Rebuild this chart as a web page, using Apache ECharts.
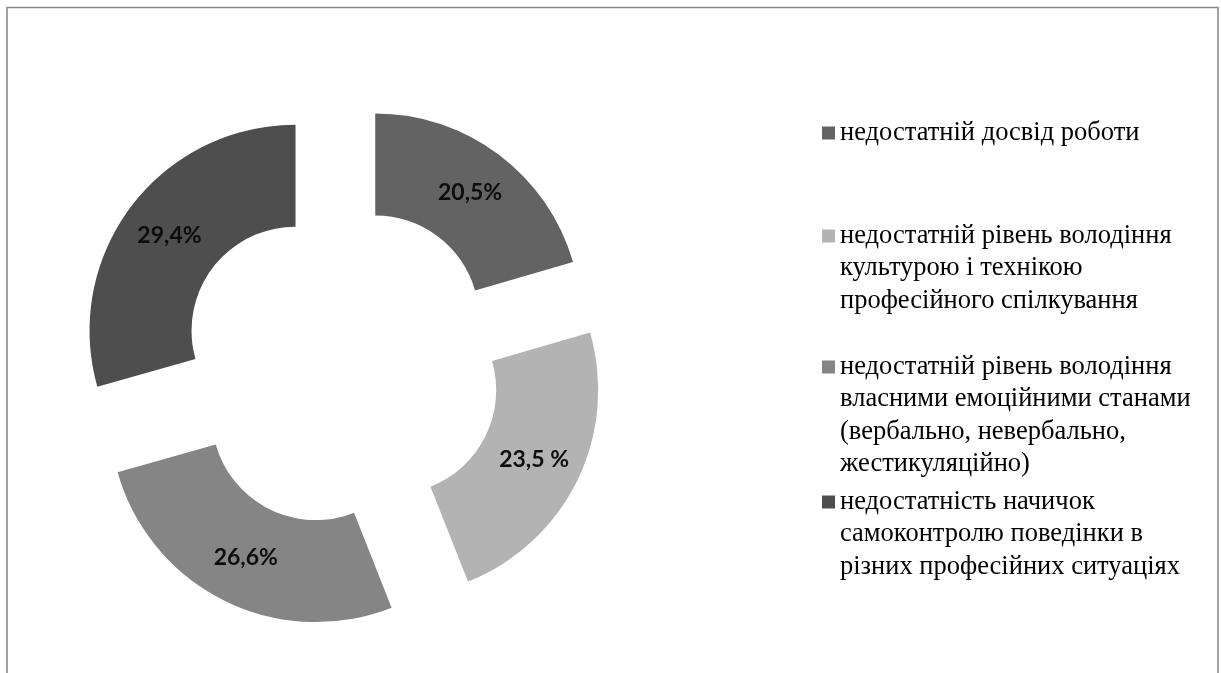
<!DOCTYPE html>
<html>
<head>
<meta charset="utf-8">
<script src="https://cdn.jsdelivr.net/npm/echarts@6/dist/echarts.min.js"></script>
<style>
  html, body { margin: 0; padding: 0; background: #ffffff; }
  #chart { width: 1221px; height: 673px; }
</style>
</head>
<body>
<div id="chart"></div>
<script>
// Difficulty categories (legend text, wrapped as displayed)
var categories = [
  'недостатній досвід роботи',
  'недостатній рівень володіння\nкультурою і технікою\nпрофесійного спілкування',
  'недостатній рівень володіння\nвласними емоційними станами\n(вербально, невербально,\nжестикуляційно)',
  'недостатність начичок\nсамоконтролю поведінки в\nрізних професійних ситуаціях'
];
// Share of respondents, %
var values = [20.5, 23.5, 26.6, 29.4];
// Slice labels as printed
var valueLabels = ['20,5%', '23,5 %', '26,6%', '29,4%'];
var colors = ['#636363', '#b3b3b3', '#858585', '#4e4e4e'];

// first-line centre of each legend entry
var legendLineY = [133, 236, 367, 502];
var LINE_H = 32.5;

var chart = echarts.init(document.getElementById('chart'), null, { renderer: 'canvas' });

// Each entry gets its own legend so the square sits beside the first text line:
// blank lines are prepended so the first real line lands at the block's middle.
var legends = categories.map(function (name, i) {
  var n = name.split('\n').length;
  var lead = new Array(n).join('\n');
  return {
    orient: 'vertical',
    left: 822,
    top: legendLineY[i] - (2 * n - 1) * LINE_H / 2,
    padding: 0,
    itemWidth: 13,
    itemHeight: 13,
    icon: 'rect',
    selectedMode: false,
    data: [name],
    formatter: function (nm) { return lead + nm; },
    textStyle: {
      fontFamily: 'Liberation Serif',
      fontSize: 26.5,
      color: '#000000',
      lineHeight: LINE_H
    }
  };
});

chart.setOption({
  animation: false,
  backgroundColor: '#ffffff',
  legend: legends,
  graphic: [{
    type: 'rect',
    shape: { x: 7, y: 7.5, width: 1211, height: 720 },
    style: { fill: 'none', stroke: '#8a8a8a', lineWidth: 1.6 },
    silent: true
  }],
  series: [{
    type: 'pie',
    center: [341, 365],
    radius: [104, 206],
    startAngle: 90,
    clockwise: true,
    selectedMode: 'multiple',
    selectedOffset: 57,
    avoidLabelOverlap: false,
    emphasis: { disabled: true },
    label: {
      show: true,
      position: 'inside',
      fontFamily: 'Lato',
      fontWeight: 'bold',
      fontSize: 23,
      color: '#0d0d0d',
      formatter: function (p) { return valueLabels[p.dataIndex]; }
    },
    labelLine: { show: false },
    data: categories.map(function (name, i) {
      return {
        name: name,
        value: values[i],
        selected: true,
        itemStyle: { color: colors[i], borderWidth: 0 },
        select: { itemStyle: { color: colors[i], borderWidth: 0 } }
      };
    })
  }]
});
</script>
</body>
</html>
